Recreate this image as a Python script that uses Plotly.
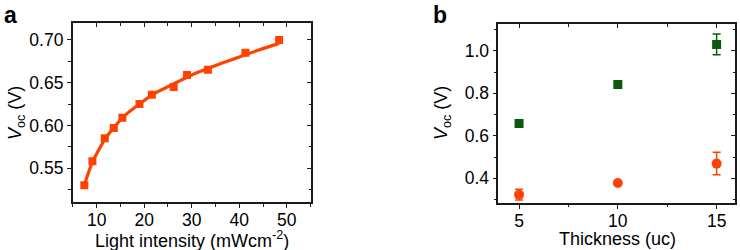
import plotly.graph_objects as go

# ---- Panel a data ----
intensity = [7.4, 9.1, 11.7, 13.6, 15.4, 19.0, 21.6, 26.2, 29.0, 33.4, 41.3, 48.4]
voc_a = [0.530, 0.558, 0.585, 0.597, 0.609, 0.625, 0.636, 0.645, 0.659, 0.665, 0.685, 0.700]
fit_x = [7.4, 9.1, 10.5, 12, 14, 16, 19, 22, 26, 30, 35, 40, 44, 48.4]
fit_y = [0.530, 0.557, 0.572, 0.586, 0.600, 0.612, 0.625, 0.637, 0.648, 0.659, 0.670, 0.680, 0.688, 0.696]

# ---- Panel b data ----
thickness = [5, 10, 15]
voc_green = [0.658, 0.841, 1.030]
err_green = [0.008, 0.008, 0.049]
voc_orange = [0.323, 0.378, 0.469]
err_orange = [0.025, 0.006, 0.053]

a_xticks = [10, 20, 30, 40, 50]
a_yticks = [0.55, 0.60, 0.65, 0.70]
b_xticks = [5, 10, 15]
b_yticks = [0.4, 0.6, 0.8, 1.0]

ORANGE = "#FF4200"
GREEN = "#0B5A0B"
AXC = "#1a1a1a"
FONT = "Liberation Sans, Arial, sans-serif"
W, H = 740, 250

fig = go.Figure()

fig.add_trace(go.Scatter(x=fit_x, y=fit_y, mode="lines", line=dict(color=ORANGE, width=3.2, shape="spline"),
                         xaxis="x", yaxis="y", showlegend=False))
fig.add_trace(go.Scatter(x=intensity, y=voc_a, mode="markers",
                         marker=dict(symbol="square", size=8, color=ORANGE),
                         xaxis="x", yaxis="y", showlegend=False))

fig.add_trace(go.Scatter(x=thickness, y=voc_green, mode="markers",
                         marker=dict(symbol="square", size=9, color=GREEN),
                         error_y=dict(type="data", array=err_green, color=GREEN, thickness=1.5, width=4),
                         xaxis="x2", yaxis="y2", showlegend=False))
fig.add_trace(go.Scatter(x=thickness, y=voc_orange, mode="markers",
                         marker=dict(symbol="circle", size=10, color=ORANGE),
                         error_y=dict(type="data", array=err_orange, color=ORANGE, thickness=1.5, width=4),
                         xaxis="x2", yaxis="y2", showlegend=False))

# dummy invisible traces for mirror axes
for xa, ya in [("x3", "y3"), ("x4", "y4")]:
    fig.add_trace(go.Scatter(x=[None], y=[None], xaxis=xa, yaxis=ya, showlegend=False, hoverinfo="skip"))

tickfont = dict(family=FONT, size=17.5, color="#000")

def main_axis(domain, rng, tickvals, fmt, minor_dtick, anchor, standoff=0):
    return dict(domain=domain, range=rng, tickvals=tickvals, tickformat=fmt, anchor=anchor,
                showline=True, linecolor=AXC, linewidth=1.6, mirror=True,
                ticks="outside", ticklen=4, tickwidth=1.3, tickcolor=AXC,
                ticklabelstandoff=standoff,
                showgrid=False, zeroline=False, tickfont=tickfont, automargin=False,
                minor=dict(dtick=minor_dtick, tick0=0, ticks="outside", ticklen=2.5, tickwidth=1.2,
                           tickcolor=AXC, showgrid=False))

def mirror_axis(domain, rng, tickvals, minor_dtick, anchor, overlay, side):
    return dict(domain=domain, range=rng, tickvals=tickvals, anchor=anchor, overlaying=overlay, side=side,
                showline=False, ticks="inside", ticklen=4, tickwidth=1.3, tickcolor=AXC,
                showticklabels=False, showgrid=False, zeroline=False, automargin=False,
                minor=dict(dtick=minor_dtick, tick0=0, ticks="inside", ticklen=2.5, tickwidth=1.2,
                           tickcolor=AXC, showgrid=False))

ax_dom = [72.7 / W, 311 / W]
ay_dom = [(H - 202.3) / H, (H - 23.3) / H]
bx_dom = [498.3 / W, 735 / W]
by_dom = [(H - 202.7) / H, (H - 24) / H]
ax_rng = [4.95, 55.1]
ay_rng = [0.510, 0.7195]
bx_rng = [3.95, 15.93]
by_rng = [0.285, 1.126]

fig.update_layout(
    width=W, height=H, margin=dict(l=0, r=0, t=0, b=0),
    paper_bgcolor="white", plot_bgcolor="white",
    xaxis=main_axis(ax_dom, ax_rng, a_xticks, "d", 5, "y", -3),
    yaxis=main_axis(ay_dom, ay_rng, a_yticks, ".2f", 0.025, "x"),
    xaxis2=main_axis(bx_dom, bx_rng, b_xticks, "d", 2.5, "y2", -3),
    yaxis2=main_axis(by_dom, by_rng, b_yticks, ".1f", 0.1, "x2"),
    xaxis3=mirror_axis(ax_dom, ax_rng, a_xticks, 5, "y", "x", "top"),
    yaxis3=mirror_axis(ay_dom, ay_rng, a_yticks, 0.025, "x", "y", "right"),
    xaxis4=mirror_axis(bx_dom, bx_rng, b_xticks, 2.5, "y2", "x2", "top"),
    yaxis4=mirror_axis(by_dom, by_rng, b_yticks, 0.1, "x2", "y2", "right"),
)

title_font = dict(family=FONT, size=18, color="#000")
annots = [
    dict(text="Light intensity (mWcm<sup>-2</sup>)", x=192 / W, y=(H - 239.5) / H, xanchor="center", yanchor="middle",
         font=title_font, textangle=0),
    dict(text="Thickness (uc)", x=617 / W, y=(H - 239) / H, xanchor="center", yanchor="middle",
         font=title_font, textangle=0),
    dict(text="<i>V</i><sub>oc</sub> (V)", x=17 / W, y=(H - 113) / H, xanchor="center", yanchor="middle",
         font=title_font, textangle=-90),
    dict(text="<i>V</i><sub>oc</sub> (V)", x=443 / W, y=(H - 113) / H, xanchor="center", yanchor="middle",
         font=title_font, textangle=-90),
    dict(text="<b>a</b>", x=2 / W, y=(H - 15) / H, xanchor="left", yanchor="middle",
         font=dict(family=FONT, size=23, color="#000")),
    dict(text="<b>b</b>", x=431 / W, y=(H - 15) / H, xanchor="left", yanchor="middle",
         font=dict(family=FONT, size=23, color="#000")),
]
for a in annots:
    a.update(xref="paper", yref="paper", showarrow=False)
fig.update_layout(annotations=annots)

fig.write_html("out.html", config={"displayModeBar": False},
               post_script="document.body.style.margin='0';document.body.style.padding='0';")
